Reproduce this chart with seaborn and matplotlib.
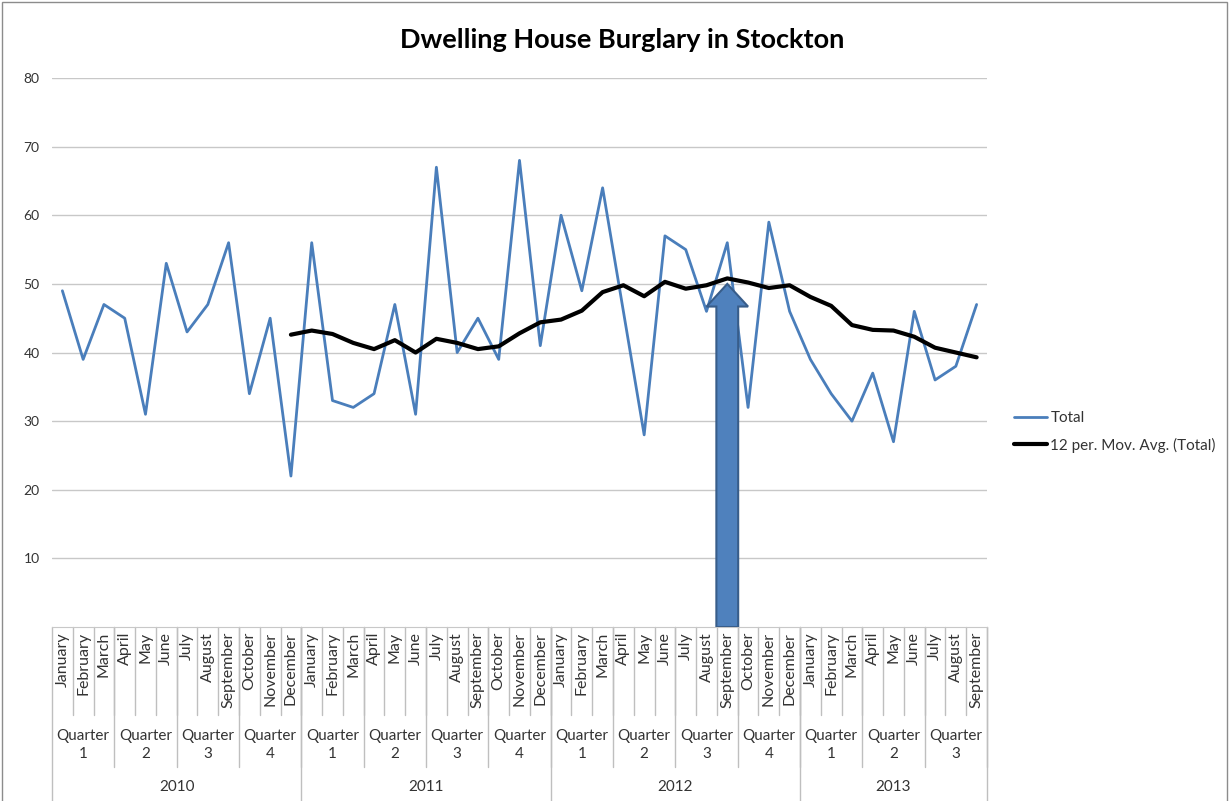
import numpy as np
import pandas as pd
import seaborn as sns
import matplotlib.pyplot as plt
import matplotlib.transforms as mtransforms
from matplotlib.patches import FancyArrow, Rectangle

years = [2010, 2011, 2012, 2013]
month_names = ['January', 'February', 'March', 'April', 'May', 'June', 'July',
               'August', 'September', 'October', 'November', 'December']
total = [49, 39, 47, 45, 31, 53, 43, 47, 56, 34, 45, 22,
         56, 33, 32, 34, 47, 31, 67, 40, 45, 39, 68, 41,
         60, 49, 64, 46, 28, 57, 55, 46, 56, 32, 59, 46,
         39, 34, 30, 37, 27, 46, 36, 38, 47]
# 12 period moving average, starts at December 2010
mov_avg = [42.6, 43.2, 42.7, 41.4, 40.5, 41.8, 40.0, 42.0, 41.4, 40.5, 40.9, 42.8, 44.4,
           44.8, 46.1, 48.8, 49.8, 48.2, 50.3, 49.3, 49.8, 50.8, 50.2, 49.4, 49.8,
           48.1, 46.8, 44.0, 43.3, 43.2, 42.3, 40.7, 40.0, 39.3]
arrow_month = (2012, 'September')
arrow_tip = 50

rows = [(y, m) for y in years for m in month_names][:len(total)]
df = pd.DataFrame(rows, columns=['year', 'month'])
df['pos'] = np.arange(len(df))
df['quarter'] = df.index % 12 // 3 + 1
df['total'] = total
df['mov_avg'] = [np.nan] * (len(total) - len(mov_avg)) + mov_avg

sns.set_style('white')
plt.rcParams['font.family'] = ['Lato', 'DejaVu Sans']

fig = plt.figure(figsize=(12.29, 8.01), dpi=100)
ax = fig.add_axes([0.0423, 0.2172, 0.7608, 0.6854])

sns.lineplot(data=df, x='pos', y='total', color='#4A7EBB', lw=2.0, label='Total', ax=ax)
sns.lineplot(data=df, x='pos', y='mov_avg', color='black', lw=3, label='12 per. Mov. Avg. (Total)', ax=ax)

ax.set_xlim(-0.5, len(df) - 0.5)
ax.set_ylim(0, 80)
ax.set_yticks(range(10, 90, 10))
ax.set_xticks([])
ax.set_xlabel('')
ax.set_ylabel('')
ax.yaxis.grid(True, color='#C8C8C8', lw=1)
ax.tick_params(axis='y', length=5, color='#A6A6A6', labelsize=10, labelcolor='#333333', pad=4)
for s in ['top', 'right', 'left']:
    ax.spines[s].set_visible(False)
ax.spines['bottom'].set_color('#C8C8C8')

# arrow pointing at September 2012
ax_x = df.loc[(df['year'] == arrow_month[0]) & (df['month'] == arrow_month[1]), 'pos'].iloc[0]
ax.add_patch(FancyArrow(ax_x, 0, 0, arrow_tip, width=1.05, head_width=2.0, head_length=3.3,
                        length_includes_head=True, fc='#4F81BD', ec='#385D8A', lw=1.5, zorder=5))

# multi level category axis
ax_h = 801 * 0.6854
xt = ax.get_xaxis_transform()

def below(px):
    return mtransforms.offset_copy(xt, fig=fig, x=0, y=-px, units='dots')

def sep(x, px):
    ax.plot([x, x], [0, -px / ax_h], transform=xt, clip_on=False, color='#BFBFBF', lw=1)

for _, r in df.iterrows():
    ax.text(r['pos'], 0, r['month'], rotation=90, ha='center', va='top',
            transform=below(5), fontsize=11.5, color='#333333')

sep(-0.5, 175)
for p in df['pos'][:-1]:
    sep(p + 0.5, 88)
for (y, q), g in df.groupby(['year', 'quarter']):
    ax.text(g['pos'].mean(), 0, f'Quarter\n{q}', ha='center', va='center', linespacing=1.4,
            transform=below(118), fontsize=11, color='#333333')
    sep(g['pos'].max() + 0.5, 140)
for y, g in df.groupby('year'):
    ax.text(g['pos'].mean(), 0, str(y), ha='center', va='center',
            transform=below(160), fontsize=11, color='#333333')
    sep(g['pos'].max() + 0.5, 175)

ax.legend(loc='center left', bbox_to_anchor=(1000 / 1229, 1 - 432 / 801),
          bbox_transform=fig.transFigure, frameon=False, fontsize=11,
          handlelength=2.2, handletextpad=0.2, labelspacing=0.8, labelcolor='#333333')

fig.text(0.506, 1 - 40 / 801, 'Dwelling House Burglary in Stockton', ha='center', va='center',
         fontsize=19.5, fontweight='bold', color='black')
fig.patches.append(Rectangle((0.002, -0.01), 0.996, 1.007, transform=fig.transFigure,
                             fill=False, edgecolor='#8C8C8C', lw=1))

fig.savefig('out.png', dpi=100)
